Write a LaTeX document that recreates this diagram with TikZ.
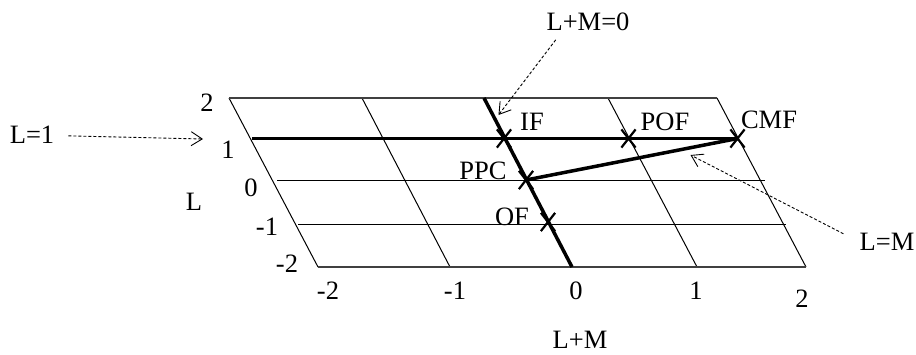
\documentclass[tikz,border=0pt]{standalone}
\usepackage{fontspec}
\setmainfont{Liberation Serif}
\usetikzlibrary{arrows.meta,shapes.misc,calc}
\begin{document}
\begin{tikzpicture}[x=1pt,y=-1pt,
  lbl/.style={font=\fontsize{26.5}{31}\selectfont, inner sep=0pt},
  gridln/.style={line width=1pt},
  edgeln/.style={line width=1.6pt, black!75},
  thickln/.style={line width=3.5pt},
  crossmk/.style={draw, cross out, line width=2.2pt, minimum width=12pt, minimum height=16pt, inner sep=0pt},
  dasharrow/.style={dash pattern=on 3pt off 2pt, line width=0.9pt, -{Straight Barb[length=11pt,width=14pt]}}]
\useasboundingbox (0,0) rectangle (916,354);
% grid corners
\coordinate (tm2) at (229,98);  \coordinate (tm1) at (362,98);
\coordinate (t0)  at (484,98);  \coordinate (t1)  at (608,98);
\coordinate (t2)  at (717,98);
\coordinate (bm2) at (318,267); \coordinate (bm1) at (450,267);
\coordinate (b0)  at (572,267); \coordinate (b1)  at (697,267);
\coordinate (b2)  at (806,267);
\coordinate (h1a) at (252,138.5);
\coordinate (h0a) at (277,180);  \coordinate (h0b) at (765,180);
\coordinate (hm1a) at (298,224); \coordinate (hm1b) at (786,224);
% grid
\draw[gridln] (tm2) -- (bm2) (tm1) -- (bm1) (t1) -- (b1) (t2) -- (b2);
\draw[gridln] (h0a) -- (h0b) (hm1a) -- (hm1b);
\draw[edgeln] (tm2) -- (t2) (bm2) -- (b2);
% points
\node[crossmk] (IFx)  at (504,138.5) {};
\node[crossmk] (POFx) at (628.5,138.5) {};
\node[crossmk] (CMFx) at (737.5,138.5) {};
\node[crossmk] (PPCx) at (526,180) {};
\node[crossmk] (OFx)  at (548,222) {};
% thick lines
\draw[thickln] (t0) -- (b0);
\draw[thickln] (h1a) -- (CMFx.center);
\draw[thickln] (PPCx.center) -- (CMFx.center);
% point labels
\node[lbl] (IF)  at (532,122) {IF};
\node[lbl] (POF) at (665,122) {POF};
\node[lbl] (CMF) at (769,120) {CMF};
\node[lbl] (PPC) at (483,171) {PPC};
\node[lbl] (OF)  at (512,217) {OF};
% axis labels
\node[lbl] (ly2)  at (207,103) {2};
\node[lbl] (ly1)  at (228,150) {1};
\node[lbl] (ly0)  at (251,188) {0};
\node[lbl] (lym1) at (267,227) {-1};
\node[lbl] (lym2) at (287,264) {-2};
\node[lbl] (Lax)  at (194,202) {L};
\node[lbl] (lxm2) at (328,291) {-2};
\node[lbl] (lxm1) at (455,291) {-1};
\node[lbl] (lx0)  at (576,291) {0};
\node[lbl] (lx1)  at (696,291) {1};
\node[lbl] (lx2)  at (802,299) {2};
\node[lbl] (LMax) at (580,340) {L+M};
% annotations
\node[lbl] (l1lab)  at (32,135) {L=1};
\node[lbl] (lm0lab) at (588,22) {L+M=0};
\node[lbl] (lmlab)  at (887,242) {L=M};
\coordinate (l1tip)  at (203,139);
\coordinate (lm0tip) at (498.5,115);
\coordinate (lmtip)  at (690.5,155);
\draw[dasharrow, shorten <=14pt] (l1lab) -- (l1tip);
\draw[dasharrow, shorten <=11pt] ([xshift=16pt]lm0lab.south west) -- (lm0tip);
\draw[dasharrow, shorten <=18pt] (lmlab.west) -- (lmtip);
\end{tikzpicture}
\end{document}
